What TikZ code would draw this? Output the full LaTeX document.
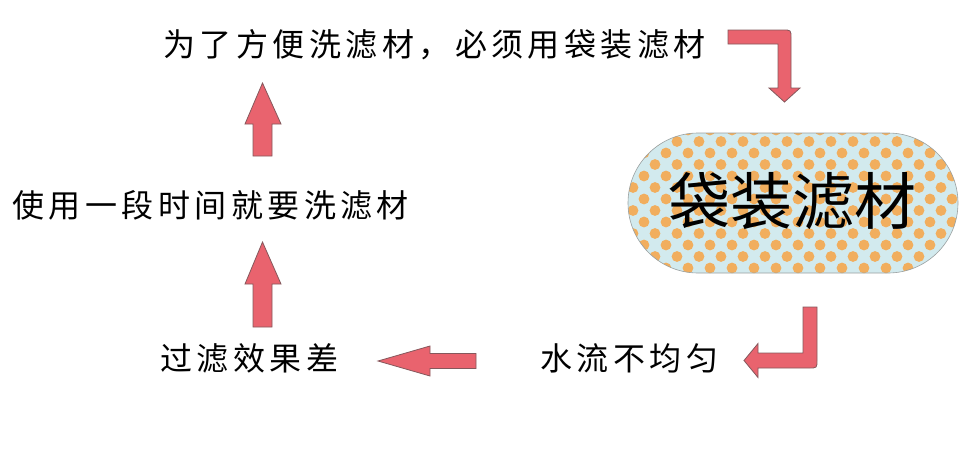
\documentclass[tikz,border=0pt]{standalone}
\usepackage{fontspec}
\newfontfamily\cjk[LetterSpace=14]{Noto Sans CJK SC}
\newfontfamily\cjkbig{Noto Sans CJK SC}
\definecolor{arrowfill}{HTML}{E9636E}
\definecolor{arrowline}{HTML}{85585C}
\definecolor{pillbg}{HTML}{D2EAEE}
\definecolor{dotc}{HTML}{F1AE5E}
\definecolor{pillline}{HTML}{9AA0A0}
\begin{document}
\begin{tikzpicture}[x=1pt,y=-1pt,
  blockarrow/.style={fill=arrowfill,draw=arrowline,line width=0.8pt,line join=miter},
  txt/.style={inner sep=0pt,anchor=west,font=\cjk\fontsize{32}{32}\selectfont},
  pilltxt/.style={inner sep=0pt,font=\cjkbig\fontsize{62}{62}\selectfont}]
\fill[white] (0,0) rectangle (975,448);
\useasboundingbox (0,0) rectangle (975,448);

% texts
\node[txt] (top) at (163,45) {为了方便洗滤材，必须用袋装滤材};
\node[txt] (mid) at (12,205) {使用一段时间就要洗滤材};
\node[txt] (bl) at (160,358) {过滤效果差};
\node[txt] (br) at (540,358) {水流不均匀};

% pill
\def\pillpath{(698,133) arc[start angle=270,end angle=90,radius=70] -- (888,273) arc[start angle=90,end angle=-90,radius=70] -- cycle}
\fill[pillbg] \pillpath;
\begin{scope}
  \clip \pillpath;
  \foreach \j in {0,...,13}{
    \foreach \i in {0,...,16}{
      \fill[dotc] ({622+22*\i+11*mod(\j,2)},{130+11.5*\j}) circle[radius=5.4pt];
    }
  }
\end{scope}
\draw[pillline,line width=0.6pt] \pillpath;
\node[pilltxt] (pill) at (792,201) {袋装滤材};

% arrow 1: top right bent
\path[blockarrow] (728,30) -- (783,30) .. controls (791,30) .. (791,38) -- (791,88) -- (800,88) -- (784.5,102) -- (769,88) -- (778,88) -- (778,44) -- (728,44) -- cycle;
% arrow 2: bottom right bent
\path[blockarrow] (803,307) -- (817,307) -- (817,360) .. controls (817,368) .. (809,368) -- (758,368) -- (758,377.5) -- (744,360.5) -- (758,343.5) -- (758,353) -- (803,353) -- cycle;
% arrow 3: left
\path[blockarrow] (476,353.5) -- (430,353.5) -- (430,346) -- (378,361) -- (430,376) -- (430,368.5) -- (476,368.5) -- cycle;
% arrow 4: up (upper)
\path[blockarrow] (253,156) -- (253,124) -- (245,124) -- (262.5,83) -- (281,124) -- (272,124) -- (272,156) -- cycle;
% arrow 5: up (lower)
\path[blockarrow] (253,327) -- (253,284) -- (245,284) -- (262.5,242) -- (281,284) -- (272,284) -- (272,327) -- cycle;
\end{tikzpicture}
\end{document}
